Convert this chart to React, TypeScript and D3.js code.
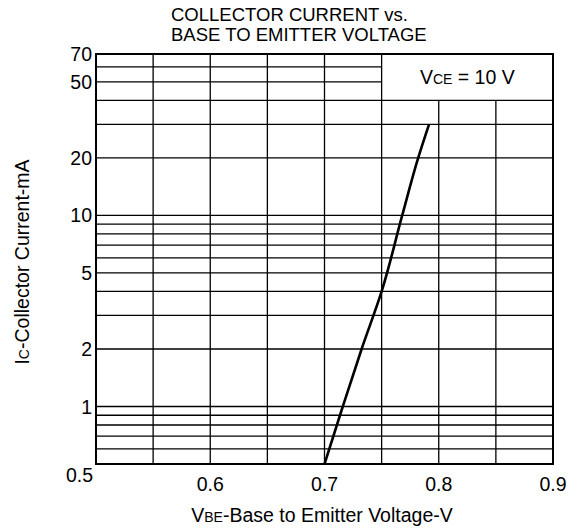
import React, { useEffect, useRef } from 'react';
import * as d3 from 'd3';

// curve: VBE (V) vs IC (mA)
const vbe = [0.7, 0.716, 0.7325, 0.75, 0.768, 0.782, 0.7915];
const ic = [0.5, 1, 2, 4, 10, 20, 30];

const xTicks = [0.6, 0.7, 0.8, 0.9];
const yTicks = [1, 2, 5, 10, 20, 50, 70];
const xGrid = [0.55, 0.6, 0.65, 0.7, 0.75, 0.8, 0.85];
const yGrid = [0.6, 0.7, 0.8, 0.9, 1, 2, 3, 4, 5, 6, 7, 8, 9, 10, 20, 30, 40, 50, 60];

const W = 580;
const H = 531;
const FONT = 'Liberation Sans, Arial, sans-serif';

const App: React.FC = () => {
  const svgRef = useRef<SVGSVGElement>(null);

  useEffect(() => {
    if (!svgRef.current) return;
    const svg = d3.select(svgRef.current);
    svg.selectAll('*').remove();

    const x = d3.scaleLinear().domain([0.5, 0.9]).range([96, 553]);
    const y = d3.scaleLog().domain([0.5, 70]).range([464, 54]);

    // legend box sits in the upper right corner, grid stops at its edges
    const boxLeft = 0.75;
    const boxBottom = 40;

    const grid = svg.append('g').attr('stroke', '#000').attr('stroke-width', 1.3);

    grid
      .selectAll('line.h')
      .data(yGrid)
      .enter()
      .append('line')
      .attr('class', 'h')
      .attr('x1', x(0.5))
      .attr('x2', d => (d > boxBottom ? x(boxLeft) : x(0.9)))
      .attr('y1', d => y(d))
      .attr('y2', d => y(d));

    grid
      .selectAll('line.v')
      .data(xGrid)
      .enter()
      .append('line')
      .attr('class', 'v')
      .attr('x1', d => x(d))
      .attr('x2', d => x(d))
      .attr('y1', d => (d > boxLeft ? y(boxBottom) : y(70)))
      .attr('y2', y(0.5));

    // frame
    svg
      .append('rect')
      .attr('x', x(0.5))
      .attr('y', y(70))
      .attr('width', x(0.9) - x(0.5))
      .attr('height', y(0.5) - y(70))
      .attr('fill', 'none')
      .attr('stroke', '#000')
      .attr('stroke-width', 2);

    // curve
    const pts: [number, number][] = vbe.map((v, i) => [v, ic[i]]);
    const line = d3
      .line<[number, number]>()
      .x(d => x(d[0]))
      .y(d => y(d[1]))
      .curve(d3.curveMonotoneY);

    svg
      .append('path')
      .datum(pts)
      .attr('d', line)
      .attr('fill', 'none')
      .attr('stroke', '#000')
      .attr('stroke-width', 2.6);

    const txt = svg.append('g').attr('font-family', FONT).attr('font-size', 19.5).attr('fill', '#000');

    // y tick labels
    txt
      .selectAll('text.yt')
      .data(yTicks)
      .enter()
      .append('text')
      .attr('class', 'yt')
      .attr('x', 92)
      .attr('y', d => y(d))
      .attr('dy', '0.36em')
      .attr('text-anchor', 'end')
      .text(d => String(d));

    // x tick labels
    txt
      .selectAll('text.xt')
      .data(xTicks)
      .enter()
      .append('text')
      .attr('class', 'xt')
      .attr('x', d => x(d))
      .attr('y', 491)
      .attr('text-anchor', 'middle')
      .text(d => d.toFixed(1));

    // 0.5 shared in the corner
    txt.append('text').attr('x', 93).attr('y', 482).attr('text-anchor', 'end').text('0.5');

    // title
    txt.append('text').attr('x', 171).attr('y', 21).attr('font-size', 18.5).text('COLLECTOR CURRENT vs.');
    txt.append('text').attr('x', 171).attr('y', 41).attr('font-size', 18.5).text('BASE TO EMITTER VOLTAGE');

    // legend text
    const leg = txt
      .append('text')
      .attr('x', (x(boxLeft) + x(0.9)) / 2)
      .attr('y', 84)
      .attr('text-anchor', 'middle');
    leg.append('tspan').text('V');
    leg.append('tspan').attr('font-size', 14).text('CE');
    leg.append('tspan').text(' = 10 V');

    // x axis title
    const xt = txt.append('text').attr('x', 322).attr('y', 522).attr('text-anchor', 'middle');
    xt.append('tspan').text('V');
    xt.append('tspan').attr('font-size', 14).text('BE');
    xt.append('tspan').text('-Base to Emitter Voltage-V');

    // y axis title
    const yt = txt
      .append('text')
      .attr('transform', 'translate(29, 262) rotate(-90)')
      .attr('text-anchor', 'middle');
    yt.append('tspan').text('I');
    yt.append('tspan').attr('font-size', 14).text('C');
    yt.append('tspan').text('-Collector Current-mA');
  }, []);

  return (
    <svg
      ref={svgRef}
      width={W}
      height={H}
      style={{ position: 'absolute', left: 0, top: 0, background: '#fff' }}
    />
  );
};

export default App;
